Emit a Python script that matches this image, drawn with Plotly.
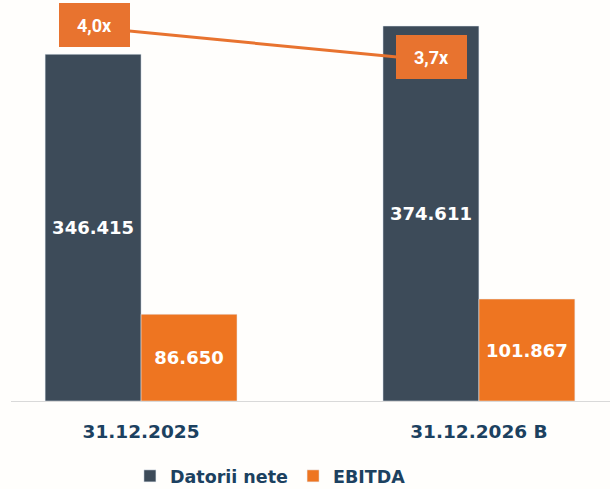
import plotly.graph_objects as go

categories = ["31.12.2025", "31.12.2026 B"]
datorii_nete = [346.415, 374.611]
ebitda = [86.650, 101.867]
ratio = [4.0, 3.7]
ratio_labels = ["4,0x", "3,7x"]
bar_labels_dn = ["346.415", "374.611"]
bar_labels_eb = ["86.650", "101.867"]

DARK = "#3d4b59"
ORANGE = "#ee7521"
BOX = "#e8732f"
NAVY = "#1c4160"
BG = "#fffefc"
BOLD = "DejaVu Sans"

idx = list(range(len(categories)))
bw = 0.284

fig = go.Figure()
fig.add_trace(go.Bar(
    x=idx, y=datorii_nete, name="Datorii nete", marker_color=DARK,
    width=bw, offset=-bw, text=bar_labels_dn, textposition="inside",
    insidetextanchor="middle", textangle=0,
    textfont=dict(family=BOLD, size=18, color="white", weight="bold"),
    hoverinfo="skip",
))
fig.add_trace(go.Bar(
    x=idx, y=ebitda, name="EBITDA", marker_color=ORANGE,
    width=bw, offset=0, text=bar_labels_eb, textposition="inside",
    insidetextanchor="middle", textangle=0,
    textfont=dict(family=BOLD, size=18, color="white", weight="bold"),
    hoverinfo="skip",
))
line_x = [i - bw / 2 for i in idx]
fig.add_trace(go.Scatter(
    x=line_x, y=ratio, yaxis="y2", mode="lines",
    line=dict(color=BOX, width=3), showlegend=False, hoverinfo="skip",
))
for xv, yv, t in zip(line_x, ratio, ratio_labels):
    fig.add_annotation(
        x=xv, y=yv, xref="x", yref="y2", text=t, showarrow=False,
        bgcolor=BOX, width=67, height=40, borderpad=2, borderwidth=0,
        yshift=3, xshift=1,
        font=dict(family="Roboto", size=18, color="white", weight="bold"),
    )

fig.update_layout(
    width=610, height=489,
    margin=dict(l=11, r=0, t=0, b=88, autoexpand=False),
    paper_bgcolor=BG, plot_bgcolor=BG,
    barmode="overlay",
    showlegend=True,
    hovermode=False,
    legend=dict(
        orientation="h", xref="container", yref="container",
        x=0.213, xanchor="left", y=1 - 476 / 489, yanchor="middle",
        font=dict(family=BOLD, size=17.5, color=NAVY, weight="bold"),
        itemwidth=30, tracegroupgap=0,
    ),
    xaxis=dict(
        range=[-0.385, 1.388], tickvals=idx, ticktext=categories,
        showgrid=False, zeroline=False, showline=True, linecolor="#d9d9d9",
        linewidth=1, ticks="", ticklabelstandoff=14, fixedrange=True,
        tickfont=dict(family=BOLD, size=18.5, color=NAVY, weight="bold"),
    ),
    yaxis=dict(range=[0, 400.6], visible=False, showgrid=False,
               zeroline=False, fixedrange=True),
    yaxis2=dict(range=[0.574, 4.253], overlaying="y", visible=False,
                showgrid=False, zeroline=False, fixedrange=True),
)

fig.write_html(
    "out.html",
    config={"displayModeBar": False},
    post_script="document.body.style.margin='0';document.body.style.padding='0';"
                "document.body.style.background='%s';" % BG,
)
